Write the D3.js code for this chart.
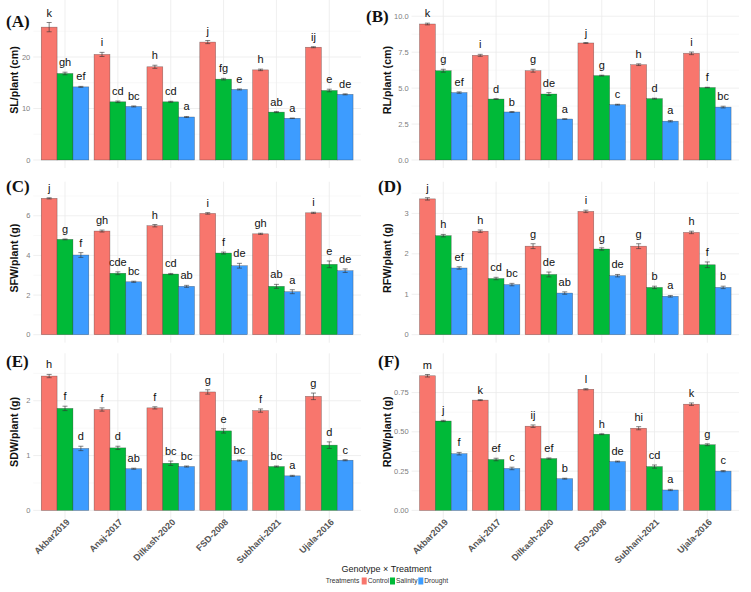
<!DOCTYPE html>
<html lang="en">
<head>
<meta charset="utf-8">
<title>Genotype x Treatment</title>
<script src="https://cdn.jsdelivr.net/npm/d3@7"></script>
<style>
  body { margin: 0; background: #fff; }
  text { font-family: "Liberation Sans", Arial, sans-serif; }
</style>
</head>
<body>
<script>
var genotypes = ["Akbar2019", "Anaj-2017", "Dilkash-2020", "FSD-2008", "Subhani-2021", "Ujala-2016"];
var treatments = ["Control", "Salinity", "Drought"];
var colors = ["#F8766D", "#00BA38", "#3D9CFF"];

// one row per genotype: [Control, Salinity, Drought]
var slMean = [[25.8, 16.8, 14.2], [20.5, 11.3, 10.4], [18.1, 11.3, 8.35], [22.9, 15.7, 13.7], [17.5, 9.3, 8.1], [21.9, 13.5, 12.75]];
var slSe = [[0.9, 0.25, 0.1], [0.4, 0.15, 0.1], [0.3, 0.1, 0.1], [0.3, 0.15, 0.1], [0.15, 0.1, 0.05], [0.1, 0.25, 0.1]];
var slLet = [["k", "gh", "ef"], ["i", "cd", "bc"], ["h", "cd", "a"], ["j", "fg", "e"], ["h", "ab", "a"], ["ij", "e", "de"]];

var rlMean = [[9.46, 6.21, 4.69], [7.28, 4.24, 3.34], [6.21, 4.59, 2.85], [8.14, 5.87, 3.85], [6.63, 4.27, 2.7], [7.42, 5.04, 3.68]];
var rlSe = [[0.06, 0.1, 0.05], [0.07, 0.03, 0.03], [0.1, 0.1, 0.02], [0.03, 0.03, 0.03], [0.06, 0.03, 0.05], [0.09, 0.02, 0.06]];
var rlLet = [["k", "g", "ef"], ["i", "d", "b"], ["g", "de", "a"], ["j", "g", "c"], ["h", "d", "a"], ["i", "f", "bc"]];

var sfwMean = [[6.88, 4.81, 4.02], [5.23, 3.1, 2.67], [5.5, 3.06, 2.44], [6.12, 4.12, 3.48], [5.09, 2.44, 2.17], [6.15, 3.55, 3.23]];
var sfwSe = [[0.03, 0.02, 0.12], [0.05, 0.07, 0.03], [0.06, 0.03, 0.05], [0.04, 0.05, 0.12], [0.03, 0.1, 0.1], [0.03, 0.17, 0.09]];
var sfwLet = [["j", "g", "f"], ["gh", "cde", "bc"], ["h", "cd", "ab"], ["i", "f", "de"], ["gh", "ab", "a"], ["i", "e", "de"]];

var rfwMean = [[3.36, 2.45, 1.65], [2.56, 1.39, 1.24], [2.19, 1.49, 1.03], [3.05, 2.12, 1.46], [2.19, 1.17, 0.95], [2.53, 1.73, 1.17]];
var rfwSe = [[0.03, 0.03, 0.03], [0.03, 0.03, 0.03], [0.06, 0.06, 0.03], [0.03, 0.03, 0.03], [0.06, 0.03, 0.02], [0.03, 0.07, 0.03]];
var rfwLet = [["j", "h", "ef"], ["h", "cd", "bc"], ["g", "de", "ab"], ["i", "g", "de"], ["g", "b", "a"], ["h", "f", "b"]];

var sdwMean = [[2.45, 1.86, 1.13], [1.84, 1.14, 0.76], [1.87, 0.86, 0.8], [2.16, 1.45, 0.91], [1.82, 0.8, 0.63], [2.08, 1.19, 0.915]];
var sdwSe = [[0.03, 0.04, 0.04], [0.03, 0.03, 0.01], [0.02, 0.04, 0.01], [0.04, 0.04, 0.01], [0.03, 0.01, 0.01], [0.06, 0.06, 0.01]];
var sdwLet = [["h", "f", "d"], ["f", "d", "ab"], ["f", "bc", "bc"], ["g", "e", "bc"], ["f", "bc", "a"], ["g", "d", "c"]];

var rdwMean = [[0.857, 0.569, 0.361], [0.702, 0.324, 0.267], [0.536, 0.33, 0.202], [0.771, 0.485, 0.311], [0.523, 0.279, 0.13], [0.676, 0.418, 0.25]];
var rdwSe = [[0.008, 0.004, 0.008], [0.003, 0.008, 0.008], [0.008, 0.004, 0.003], [0.004, 0.003, 0.003], [0.01, 0.01, 0.004], [0.008, 0.006, 0.004]];
var rdwLet = [["m", "j", "f"], ["k", "ef", "c"], ["ij", "ef", "b"], ["l", "h", "de"], ["hi", "cd", "a"], ["k", "g", "c"]];

var W = 751, H = 592;
var colX = [[33.3, 361], [411.6, 739]];
var rowY = [[160, 0], [334.7, 181.7], [510.4, 353.3]];

var panels = [
  {tag: "(A)", title: "SL/plant (cm)", mean: slMean, se: slSe, lets: slLet, ticks: [0, 10, 20], fmt: d3.format("d"), ymax: 31.07, col: 0, row: 0, tagX: 6, tagY: 27},
  {tag: "(B)", title: "RL/plant (cm)", mean: rlMean, se: rlSe, lets: rlLet, ticks: [0, 2.5, 5, 7.5, 10], fmt: d3.format(".1f"), ymax: 11.13, col: 1, row: 0, tagX: 366, tagY: 22},
  {tag: "(C)", title: "SFW/plant (g)", mean: sfwMean, se: sfwSe, lets: sfwLet, ticks: [0, 2, 4, 6], fmt: d3.format("d"), ymax: 7.72, col: 0, row: 1, tagX: 6, tagY: 192},
  {tag: "(D)", title: "RFW/plant (g)", mean: rfwMean, se: rfwSe, lets: rfwLet, ticks: [0, 1, 2, 3], fmt: d3.format("d"), ymax: 3.785, col: 1, row: 1, tagX: 378, tagY: 192},
  {tag: "(E)", title: "SDW/plant (g)", mean: sdwMean, se: sdwSe, lets: sdwLet, ticks: [0, 1, 2], fmt: d3.format("d"), ymax: 2.865, col: 0, row: 2, tagX: 6, tagY: 367},
  {tag: "(F)", title: "RDW/plant (g)", mean: rdwMean, se: rdwSe, lets: rdwLet, ticks: [0, 0.25, 0.5, 0.75], fmt: d3.format(".2f"), ymax: 1.0, col: 1, row: 2, tagX: 378, tagY: 367}
];

var svg = d3.select("body").append("svg")
    .attr("width", W)
    .attr("height", H);

panels.forEach(function(p) {
  var xr = colX[p.col], yr = rowY[p.row];
  var x = d3.scaleBand().domain(genotypes).range(xr).paddingInner(0.1).paddingOuter(0.15);
  var xs = d3.scaleBand().domain(treatments).range([0, x.bandwidth()]);
  var y = d3.scaleLinear().domain([0, p.ymax]).range(yr);
  var g = svg.append("g");

  // minor + major horizontal grid
  var minor = [];
  for (var i = 0; i < p.ticks.length; i++) {
    var step = p.ticks[1] - p.ticks[0];
    minor.push(p.ticks[i] + step / 2);
  }
  g.selectAll(".minor").data(minor.filter(function(v) { return v < p.ymax; })).enter()
    .append("line")
    .attr("x1", xr[0]).attr("x2", xr[1])
    .attr("y1", function(d) { return y(d); }).attr("y2", function(d) { return y(d); })
    .attr("stroke", "#f4f4f4").attr("stroke-width", 0.6);
  g.selectAll(".major").data(p.ticks).enter()
    .append("line")
    .attr("x1", xr[0]).attr("x2", xr[1])
    .attr("y1", function(d) { return y(d); }).attr("y2", function(d) { return y(d); })
    .attr("stroke", "#ebebeb").attr("stroke-width", 0.8);
  g.selectAll(".vgrid").data(genotypes).enter()
    .append("line")
    .attr("x1", function(d) { return x(d) + x.bandwidth() / 2; })
    .attr("x2", function(d) { return x(d) + x.bandwidth() / 2; })
    .attr("y1", yr[1]).attr("y2", yr[0] + 8)
    .attr("stroke", "#ebebeb").attr("stroke-width", 0.8);

  // y tick labels
  g.selectAll(".ytl").data(p.ticks).enter()
    .append("text")
    .attr("x", xr[0] - 3)
    .attr("y", function(d) { return y(d); })
    .attr("dy", "0.35em")
    .attr("text-anchor", "end")
    .attr("font-size", 7.5)
    .attr("fill", "#808080")
    .text(p.fmt);

  // bars
  var rows = [];
  genotypes.forEach(function(gn, gi) {
    treatments.forEach(function(t, ti) {
      rows.push({g: gn, t: t, ti: ti, m: p.mean[gi][ti], se: p.se[gi][ti], l: p.lets[gi][ti]});
    });
  });

  g.selectAll(".bar").data(rows).enter()
    .append("rect")
    .attr("x", function(d) { return x(d.g) + xs(d.t); })
    .attr("width", xs.bandwidth())
    .attr("y", function(d) { return y(d.m); })
    .attr("height", function(d) { return y(0) - y(d.m); })
    .attr("fill", function(d) { return colors[d.ti]; })
    .attr("stroke", "rgba(40,40,40,0.55)")
    .attr("stroke-width", 0.5);

  // error bars
  var eb = g.selectAll(".eb").data(rows).enter().append("g")
    .attr("stroke", "#333").attr("stroke-width", 0.6);
  eb.append("line")
    .attr("x1", function(d) { return x(d.g) + xs(d.t) + xs.bandwidth() / 2; })
    .attr("x2", function(d) { return x(d.g) + xs(d.t) + xs.bandwidth() / 2; })
    .attr("y1", function(d) { return y(d.m - d.se); })
    .attr("y2", function(d) { return y(d.m + d.se); });
  [1, -1].forEach(function(s) {
    eb.append("line")
      .attr("x1", function(d) { return x(d.g) + xs(d.t) + xs.bandwidth() / 2 - 2.5; })
      .attr("x2", function(d) { return x(d.g) + xs(d.t) + xs.bandwidth() / 2 + 2.5; })
      .attr("y1", function(d) { return y(d.m + s * d.se); })
      .attr("y2", function(d) { return y(d.m + s * d.se); });
  });

  // significance letters
  g.selectAll(".let").data(rows).enter()
    .append("text")
    .attr("x", function(d) { return x(d.g) + xs(d.t) + xs.bandwidth() / 2; })
    .attr("y", function(d) { return y(d.m + d.se) - 6; })
    .attr("text-anchor", "middle")
    .attr("font-size", 11)
    .attr("fill", "#111")
    .text(function(d) { return d.l; });

  // y title
  var ty = (yr[0] + yr[1]) / 2;
  var tx = p.col === 0 ? 18 : 391;
  g.append("text")
    .attr("transform", "translate(" + tx + "," + ty + ") rotate(-90)")
    .attr("text-anchor", "middle")
    .attr("font-size", 10.7)
    .attr("font-weight", "bold")
    .attr("fill", "#111")
    .text(p.title);

  // panel tag
  g.append("text")
    .attr("x", p.tagX).attr("y", p.tagY)
    .attr("font-family", "Liberation Serif, Times New Roman, serif")
    .style("font-family", "'Liberation Serif', serif")
    .attr("font-size", 17)
    .attr("font-weight", "bold")
    .attr("fill", "#111")
    .text(p.tag);

  // x labels on bottom row only
  if (p.row === 2) {
    g.selectAll(".xl").data(genotypes).enter()
      .append("text")
      .attr("transform", function(d) {
        return "translate(" + (x(d) + x.bandwidth() / 2 + 3) + "," + (yr[0] + 10) + ") rotate(-45)";
      })
      .attr("text-anchor", "end")
      .attr("dy", "0.35em")
      .attr("font-size", 9)
      .attr("font-weight", "bold")
      .attr("fill", "#555")
      .text(function(d) { return d; });
  }
});

// legend
svg.append("text")
  .attr("x", 386.5).attr("y", 571.5)
  .attr("text-anchor", "middle")
  .attr("font-size", 9)
  .attr("fill", "#222")
  .text("Genotype \u00d7 Treatment");

var lg = svg.append("g").attr("transform", "translate(325.7,581)");
lg.append("text").attr("x", 0).attr("y", 2.4).attr("font-size", 6.7).attr("fill", "#333").text("Treatments");
var keyX = [36, 64.3, 92.6];
treatments.forEach(function(t, i) {
  lg.append("rect").attr("x", keyX[i]).attr("y", -3.5).attr("width", 5).attr("height", 7).attr("fill", colors[i]);
  lg.append("text").attr("x", keyX[i] + 6).attr("y", 2.4).attr("font-size", 6.7).attr("fill", "#333").text(t);
});
</script>
</body>
</html>
